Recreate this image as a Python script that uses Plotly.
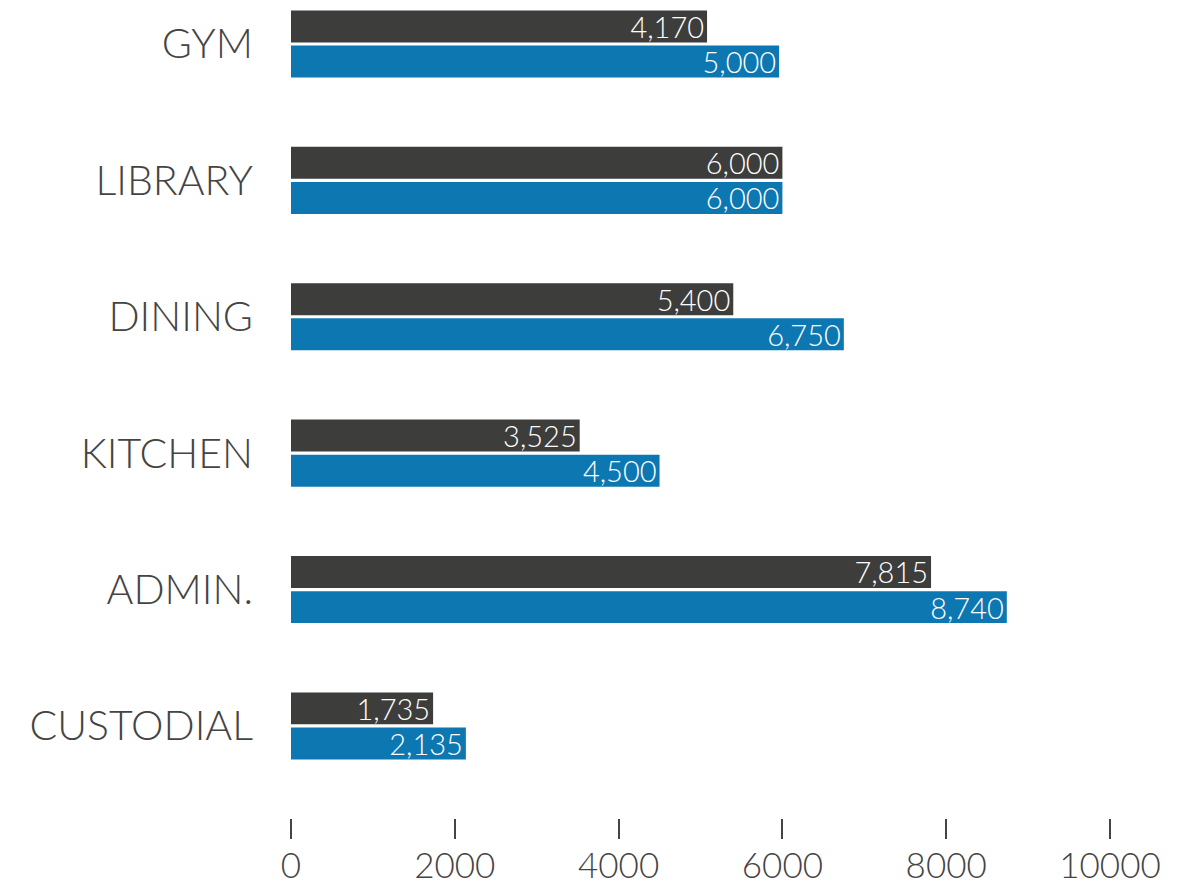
import plotly.graph_objects as go

categories = ["GYM", "LIBRARY", "DINING", "KITCHEN", "ADMIN.", "CUSTODIAL"]
# bar lengths as drawn in the reference
series_a_values = [5080, 6000, 5400, 3525, 7815, 1735]
series_b_values = [5960, 6000, 6750, 4500, 8740, 2135]
# labels printed on the bars
series_a_labels = ["4,170", "6,000", "5,400", "3,525", "7,815", "1,735"]
series_b_labels = ["5,000", "6,000", "6,750", "4,500", "8,740", "2,135"]
x_tick_values = [0, 2000, 4000, 6000, 8000, 10000]
x_tick_labels = ["0", "2000", "4000", "6000", "8000", "10000"]

FONT = "Lato"
GRAY = "#3d3d3c"
BLUE = "#0d77b1"
TEXT = "#444444"

fig = go.Figure()
for vals, labels, color in [(series_a_values, series_a_labels, GRAY),
                            (series_b_values, series_b_labels, BLUE)]:
    fig.add_trace(go.Bar(
        y=categories, x=vals, orientation="h",
        marker=dict(color=color, line=dict(width=0)),
        text=labels, textposition="inside", insidetextanchor="end",
        constraintext="none", cliponaxis=False,
        textfont=dict(family=FONT, size=29, color="white", weight=300),
        textangle=0, hoverinfo="skip",
    ))

fig.update_layout(
    width=1189, height=886,
    margin=dict(l=291, r=12, t=0, b=68),
    paper_bgcolor="white", plot_bgcolor="white",
    barmode="group", bargap=0.485, bargroupgap=0.09,
    showlegend=False,
    xaxis=dict(
        range=[0, 886 / 0.0819], tickvals=x_tick_values, ticktext=x_tick_labels,
        showgrid=False, zeroline=False, showline=False, automargin=False,
        ticks="outside", ticklen=20, tickwidth=2, tickcolor="#444444",
        ticklabelstandoff=-3,
        tickfont=dict(family=FONT, size=35, color=TEXT, weight=300),
    ),
    yaxis=dict(
        type="category", categoryorder="array", categoryarray=categories,
        range=[5.675, -0.3226], automargin=False,
        showgrid=False, zeroline=False, showline=False, ticks="",
        ticklabelstandoff=37,
        tickfont=dict(family=FONT, size=41, color=TEXT, weight=300),
    ),
)

fig.write_html("out.html", config={"displayModeBar": False},
               post_script="document.body.style.margin='0';document.body.style.overflow='hidden';")
